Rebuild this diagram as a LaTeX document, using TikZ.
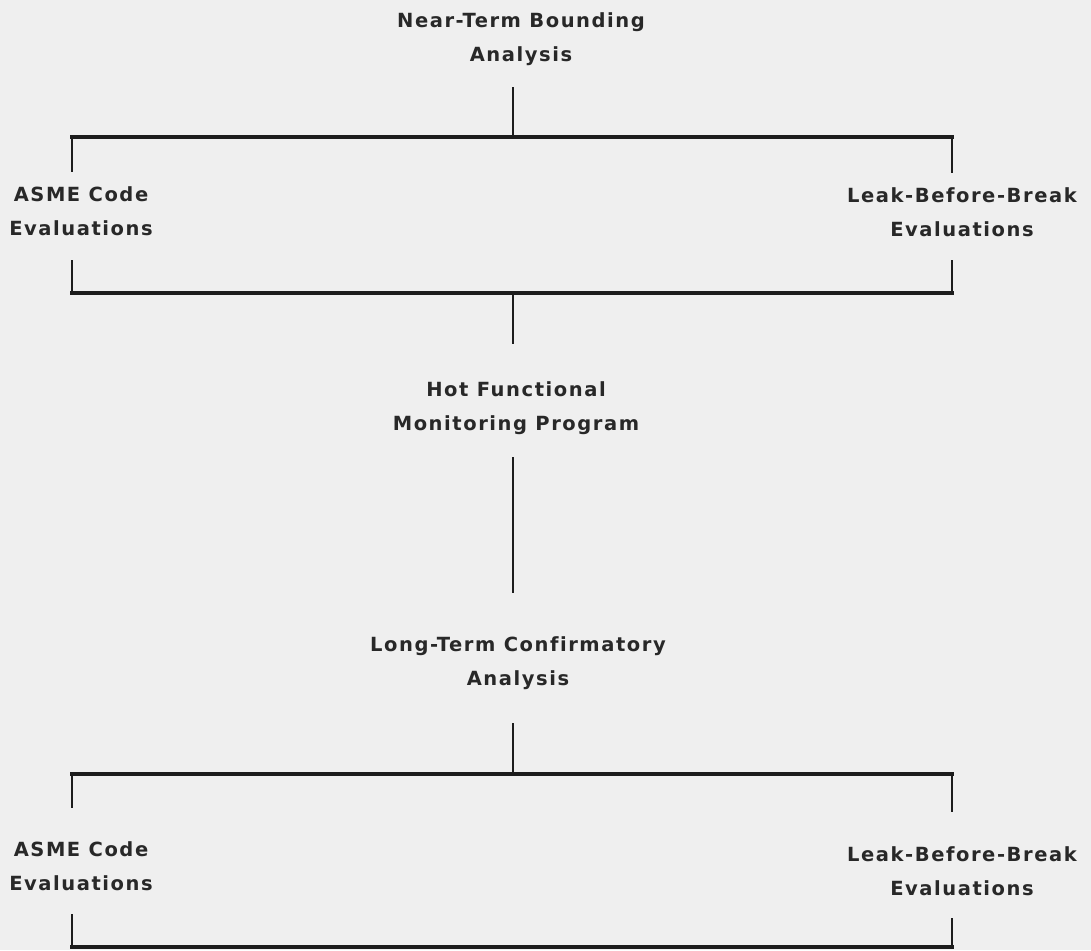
\documentclass[tikz,border=0pt]{standalone}
\usepackage{fontspec}
\setmainfont{DejaVu Sans}[LetterSpace=8, Ligatures=NoCommon]
\definecolor{bg}{RGB}{239,239,239}
\definecolor{ink}{RGB}{28,28,28}
\definecolor{txt}{RGB}{40,40,40}
\begin{document}
\begin{tikzpicture}[x=1pt,y=-1pt,
  lbl/.style={font=\fontsize{19.5}{34}\selectfont\bfseries, text=txt, align=center, inner sep=0pt},
  bar/.style={draw=ink, line width=4.2pt, line cap=rect},
  stem/.style={draw=ink, line width=2.4pt}]
\fill[bg] (0,0) rectangle (1091,950);
\useasboundingbox (0,0) rectangle (1091,950);

% text nodes
\node[lbl] (n1) at (521,39) {Near-Term Bounding\\Analysis};
\node[lbl] (a1) at (81,211) {ASME Code\\Evaluations};
\node[lbl] (b1) at (962,212) {Leak-Before-Break\\Evaluations};
\node[lbl] (h)  at (516,408) {Hot Functional\\Monitoring Program};
\node[lbl] (n2) at (518,663) {Long-Term Confirmatory\\Analysis};
\node[lbl] (a2) at (81,866) {ASME Code\\Evaluations};
\node[lbl] (b2) at (962,871) {Leak-Before-Break\\Evaluations};

% junction coordinates
\coordinate (s1) at (513,87);
\coordinate (j1) at (513,137);
\coordinate (l1) at (72,137);
\coordinate (r1) at (952,137);
\coordinate (la1) at (72,172);
\coordinate (rb1) at (952,173);
\coordinate (la1b) at (72,260);
\coordinate (rb1b) at (952,260);
\coordinate (l2) at (72,293);
\coordinate (r2) at (952,293);
\coordinate (j2) at (513,293);
\coordinate (h1) at (513,344);
\coordinate (h2) at (513,457);
\coordinate (h3) at (513,593);
\coordinate (s2) at (513,723);
\coordinate (j3) at (513,774);
\coordinate (l3) at (72,774);
\coordinate (r3) at (952,774);
\coordinate (la2) at (72,808);
\coordinate (rb2) at (952,812);
\coordinate (la2b) at (72,914);
\coordinate (rb2b) at (952,918);
\coordinate (l4) at (72,947);
\coordinate (r4) at (952,947);

% first bracket
\draw[stem] (s1) -- (j1);
\draw[bar] (l1) -- (r1);
\draw[stem] (l1) -- (la1);
\draw[stem] (r1) -- (rb1);
\draw[stem] (la1b) -- (l2);
\draw[stem] (rb1b) -- (r2);
\draw[bar] (l2) -- (r2);
\draw[stem] (j2) -- (h1);
% middle
\draw[stem] (h2) -- (h3);
% second bracket
\draw[stem] (s2) -- (j3);
\draw[bar] (l3) -- (r3);
\draw[stem] (l3) -- (la2);
\draw[stem] (r3) -- (rb2);
\draw[stem] (la2b) -- (l4);
\draw[stem] (rb2b) -- (r4);
\draw[bar] (l4) -- (r4);
\end{tikzpicture}
\end{document}
